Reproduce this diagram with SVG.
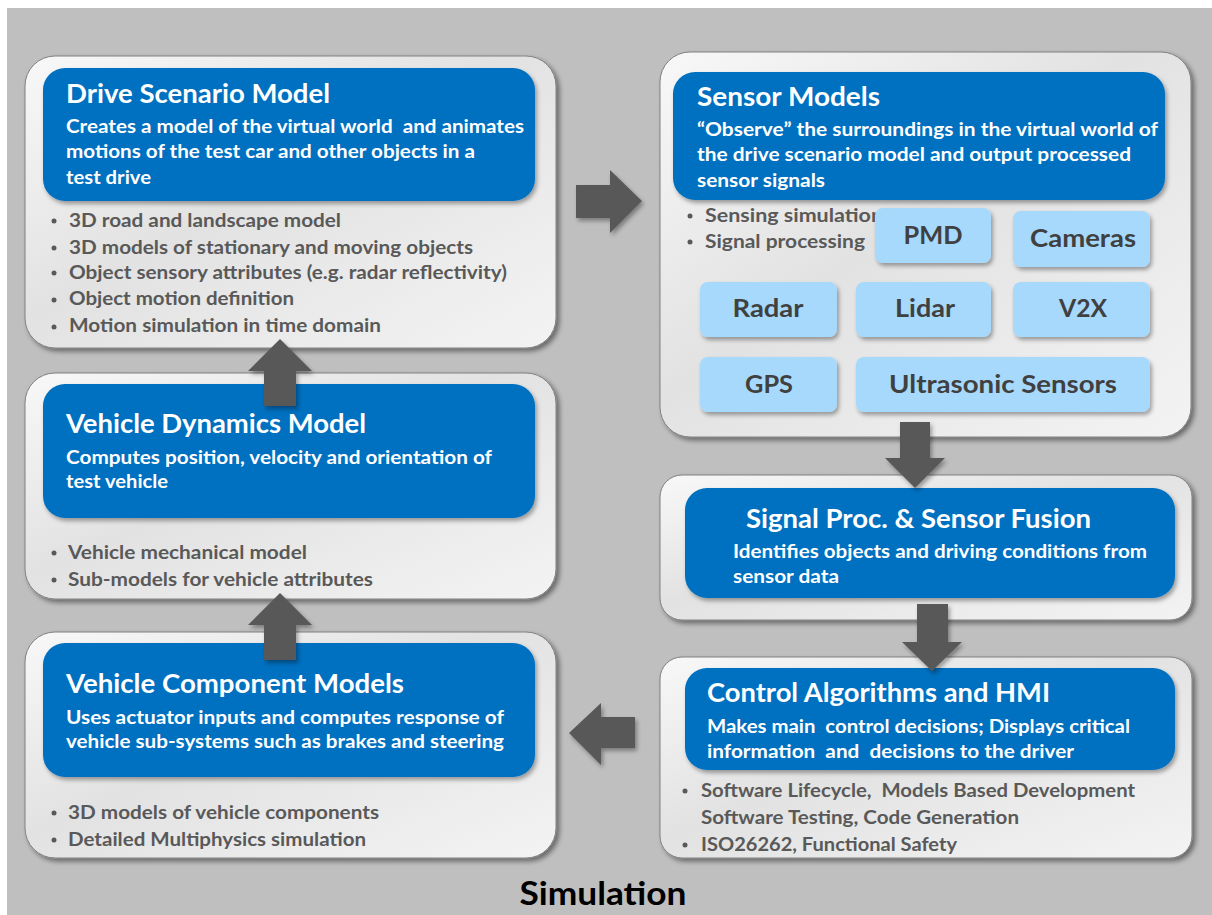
<svg xmlns="http://www.w3.org/2000/svg" width="1212" height="915" viewBox="0 0 1212 915">
<defs>
<linearGradient id="pg" x1="0" y1="0" x2="1" y2="1">
<stop offset="0" stop-color="#f8f8f8"/>
<stop offset="0.45" stop-color="#e2e2e2"/>
<stop offset="0.75" stop-color="#ececec"/>
<stop offset="1" stop-color="#f3f3f3"/>
</linearGradient>
<filter id="sh" x="-5%" y="-5%" width="115%" height="120%">
<feDropShadow dx="3" dy="3" stdDeviation="2.5" flood-color="#000" flood-opacity="0.45"/>
</filter>
<filter id="shs" x="-10%" y="-10%" width="130%" height="140%">
<feDropShadow dx="2" dy="3" stdDeviation="2" flood-color="#000" flood-opacity="0.35"/>
</filter>
</defs>
<style>
.panel{fill:url(#pg);stroke:#808080;stroke-width:1;filter:url(#sh)}
.blue{fill:#0070c0;filter:url(#shs)}
.lb{fill:#a6d9fb;filter:url(#shs)}
.arr{fill:#595959;filter:url(#shs)}
text{font-family:Lato,"Open Sans","Liberation Sans",sans-serif;font-weight:bold}
.ttl{font-size:26.5px;fill:#fff}
.sub{font-size:18.5px;fill:#fff}
.bul{font-size:18.5px;fill:#595959}
.dot{fill:#595959}
.lbl{font-size:25px;fill:#404040;text-anchor:middle}
.cap{font-size:32px;fill:#000;text-anchor:middle}
</style>
<rect x="7" y="8" width="1205" height="907" fill="#bfbfbf"/>

<g id="drive-scenario">
<rect class="panel" x="25" y="56" width="531" height="292" rx="30"/>
<rect class="blue" x="43" y="68" width="492" height="133" rx="22"/>
<text class="ttl" x="66" y="103" textLength="264" lengthAdjust="spacingAndGlyphs">Drive Scenario Model</text>
<text class="sub" x="66" y="133" textLength="458" lengthAdjust="spacingAndGlyphs" xml:space="preserve">Creates a model of the virtual world  and animates</text>
<text class="sub" x="66" y="158" textLength="409" lengthAdjust="spacingAndGlyphs">motions of the test car and other objects in a</text>
<text class="sub" x="66" y="184" textLength="85" lengthAdjust="spacingAndGlyphs">test drive</text>
<circle class="dot" cx="54" cy="221" r="2.5"/>
<circle class="dot" cx="54" cy="248" r="2.5"/>
<circle class="dot" cx="54" cy="273" r="2.5"/>
<circle class="dot" cx="54" cy="300" r="2.5"/>
<circle class="dot" cx="54" cy="327" r="2.5"/>
<text class="bul" x="69" y="227" textLength="272" lengthAdjust="spacingAndGlyphs">3D road and landscape model</text>
<text class="bul" x="69" y="254" textLength="404" lengthAdjust="spacingAndGlyphs">3D models of stationary and moving objects</text>
<text class="bul" x="69" y="279" textLength="438" lengthAdjust="spacingAndGlyphs">Object sensory attributes (e.g. radar reflectivity)</text>
<text class="bul" x="69" y="305" textLength="225" lengthAdjust="spacingAndGlyphs">Object motion definition</text>
<text class="bul" x="69" y="332" textLength="312" lengthAdjust="spacingAndGlyphs">Motion simulation in time domain</text>
</g>

<g id="vehicle-dynamics">
<rect class="panel" x="25" y="373" width="531" height="226" rx="30"/>
<rect class="blue" x="43" y="384" width="492" height="134" rx="22"/>
<text class="ttl" x="66" y="433" textLength="300" lengthAdjust="spacingAndGlyphs">Vehicle Dynamics Model</text>
<text class="sub" x="66" y="464" textLength="426" lengthAdjust="spacingAndGlyphs">Computes position, velocity and orientation of</text>
<text class="sub" x="66" y="488" textLength="102" lengthAdjust="spacingAndGlyphs">test vehicle</text>
<circle class="dot" cx="54" cy="553" r="2.5"/>
<circle class="dot" cx="54" cy="580" r="2.5"/>
<text class="bul" x="68" y="559" textLength="239" lengthAdjust="spacingAndGlyphs">Vehicle mechanical model</text>
<text class="bul" x="68" y="586" textLength="305" lengthAdjust="spacingAndGlyphs">Sub-models for vehicle attributes</text>
</g>

<g id="vehicle-component">
<rect class="panel" x="25" y="632" width="531" height="226" rx="30"/>
<rect class="blue" x="43" y="643" width="492" height="134" rx="22"/>
<text class="ttl" x="66" y="693" textLength="338" lengthAdjust="spacingAndGlyphs">Vehicle Component Models</text>
<text class="sub" x="66" y="724" textLength="438" lengthAdjust="spacingAndGlyphs">Uses actuator inputs and computes response of</text>
<text class="sub" x="66" y="748" textLength="438" lengthAdjust="spacingAndGlyphs">vehicle sub-systems such as brakes and steering</text>
<circle class="dot" cx="54" cy="813" r="2.5"/>
<circle class="dot" cx="54" cy="840" r="2.5"/>
<text class="bul" x="68" y="819" textLength="311" lengthAdjust="spacingAndGlyphs">3D models of vehicle components</text>
<text class="bul" x="68" y="846" textLength="298" lengthAdjust="spacingAndGlyphs">Detailed Multiphysics simulation</text>
</g>

<g id="sensor-models">
<rect class="panel" x="660" y="52" width="531" height="385" rx="30"/>
<rect class="blue" x="673" y="72" width="492" height="128" rx="22"/>
<text class="ttl" x="697" y="106" textLength="183" lengthAdjust="spacingAndGlyphs">Sensor Models</text>
<text class="sub" x="697" y="136" textLength="461" lengthAdjust="spacingAndGlyphs">“Observe” the surroundings in the virtual world of</text>
<text class="sub" x="697" y="161" textLength="434" lengthAdjust="spacingAndGlyphs">the drive scenario model and output processed</text>
<text class="sub" x="697" y="187" textLength="128" lengthAdjust="spacingAndGlyphs">sensor signals</text>
<circle class="dot" cx="690" cy="216" r="2.5"/>
<circle class="dot" cx="690" cy="242" r="2.5"/>
<text class="bul" x="705" y="222" textLength="178" lengthAdjust="spacingAndGlyphs">Sensing simulation</text>
<text class="bul" x="705" y="248" textLength="160" lengthAdjust="spacingAndGlyphs">Signal processing</text>
<g id="pmd"><rect class="lb" x="875" y="208" width="116" height="55" rx="8"/><text class="lbl" x="933" y="244" textLength="59" lengthAdjust="spacingAndGlyphs">PMD</text></g>
<g id="cameras"><rect class="lb" x="1013" y="211" width="137" height="56" rx="8"/><text class="lbl" x="1083" y="247" textLength="106" lengthAdjust="spacingAndGlyphs">Cameras</text></g>
<g id="radar"><rect class="lb" x="700" y="282" width="137" height="55" rx="8"/><text class="lbl" x="768" y="317" textLength="71" lengthAdjust="spacingAndGlyphs">Radar</text></g>
<g id="lidar"><rect class="lb" x="856" y="282" width="135" height="55" rx="8"/><text class="lbl" x="925" y="317" textLength="60" lengthAdjust="spacingAndGlyphs">Lidar</text></g>
<g id="v2x"><rect class="lb" x="1013" y="282" width="137" height="55" rx="8"/><text class="lbl" x="1083" y="317" textLength="48" lengthAdjust="spacingAndGlyphs">V2X</text></g>
<g id="gps"><rect class="lb" x="700" y="357" width="137" height="55" rx="8"/><text class="lbl" x="769" y="393" textLength="48" lengthAdjust="spacingAndGlyphs">GPS</text></g>
<g id="ultrasonic"><rect class="lb" x="856" y="357" width="294" height="55" rx="8"/><text class="lbl" x="1003" y="393" textLength="228" lengthAdjust="spacingAndGlyphs">Ultrasonic Sensors</text></g>
</g>

<g id="signal-fusion">
<rect class="panel" x="660" y="475" width="532" height="145" rx="22"/>
<rect class="blue" x="685" y="488" width="490" height="110" rx="22"/>
<text class="ttl" x="746" y="528" textLength="345" lengthAdjust="spacingAndGlyphs">Signal Proc. &amp; Sensor Fusion</text>
<text class="sub" x="733" y="558" textLength="414" lengthAdjust="spacingAndGlyphs">Identifies objects and driving conditions from</text>
<text class="sub" x="733" y="583" textLength="106" lengthAdjust="spacingAndGlyphs">sensor data</text>
</g>

<g id="control-hmi">
<rect class="panel" x="660" y="657" width="532" height="201" rx="22"/>
<rect class="blue" x="685" y="668" width="490" height="102" rx="22"/>
<text class="ttl" x="707" y="702" textLength="343" lengthAdjust="spacingAndGlyphs">Control Algorithms and HMI</text>
<text class="sub" x="707" y="733" textLength="423" lengthAdjust="spacingAndGlyphs" xml:space="preserve">Makes main  control decisions; Displays critical</text>
<text class="sub" x="707" y="758" textLength="367" lengthAdjust="spacingAndGlyphs" xml:space="preserve">information  and  decisions to the driver</text>
<circle class="dot" cx="685" cy="791" r="2.5"/>
<circle class="dot" cx="685" cy="845" r="2.5"/>
<text class="bul" x="701" y="797" textLength="434" lengthAdjust="spacingAndGlyphs" xml:space="preserve">Software Lifecycle,  Models Based Development</text>
<text class="bul" x="701" y="824" textLength="318" lengthAdjust="spacingAndGlyphs">Software Testing, Code Generation</text>
<text class="bul" x="701" y="851" textLength="256" lengthAdjust="spacingAndGlyphs">ISO26262, Functional Safety</text>
</g>

<g id="connectors">
<polygon class="arr" points="576,185 610,185 610,170 642,201 610,233 610,218 576,218"/>
<polygon class="arr" points="900,422 930,422 930,458 945,458 915,488 885,458 900,458"/>
<polygon class="arr" points="917,604 948,604 948,642 962,642 932,671 902,642 917,642"/>
<polygon class="arr" points="635,717 635,748 601,748 601,765 569,733 601,703 601,717"/>
<polygon class="arr" points="264,406 296,406 296,371 312,371 280,339 248,371 264,371"/>
<polygon class="arr" points="264,660 296,660 296,625 312,625 280,593 248,625 264,625"/>
</g>

<text class="cap" x="603" y="905" textLength="167" lengthAdjust="spacingAndGlyphs">Simulation</text>
</svg>
